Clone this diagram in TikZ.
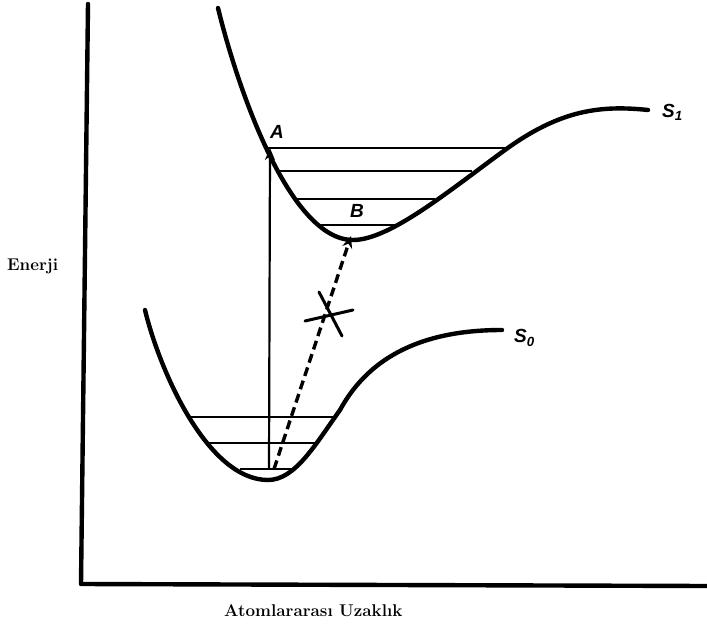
\documentclass[tikz,border=0pt]{standalone}
\usepackage{fontspec}
\newfontfamily\lblfont{Liberation Sans}
\usetikzlibrary{arrows.meta}
\tikzset{
  axis/.style={line width=4.4pt, line cap=round, line join=round},
  curve/.style={line width=4.4pt, line cap=round},
  level/.style={line width=2pt},
  jump/.style={-{Stealth[length=12pt, width=10pt]}, line width=2.2pt},
  nojump/.style={-{Stealth[length=12pt, width=10pt]}, line width=3.4pt, dash pattern=on 9pt off 5pt},
  cross/.style={line width=3pt, line cap=round},
  statelbl/.style={font=\lblfont\bfseries\itshape\fontsize{19}{22}\selectfont, inner sep=0pt},
  axislbl/.style={font=\bfseries\fontsize{17}{20}\selectfont, inner sep=0pt}
}
\begin{document}
\begin{tikzpicture}[x=1pt, y=-1pt]
\useasboundingbox (0,0) rectangle (707,626);

% axes
\coordinate (top) at (88,4);
\coordinate (origin) at (81,584);
\coordinate (right) at (707,586);
\draw[axis] (top) -- (origin) -- (right);

% potential curves
\coordinate (s1start) at (218,8);
\coordinate (s1min) at (353,240);
\coordinate (s1bend) at (505,150);
\coordinate (s1end) at (648,110);
\draw[curve] (s1start) .. controls (238,90) and (290,240) .. (s1min)
  .. controls (390,240) and (450,190) .. (s1bend)
  .. controls (560,110) and (600,105) .. (s1end);
\coordinate (s0start) at (145,310);
\coordinate (s0min) at (268,480);
\coordinate (s0bend) at (340,410);
\coordinate (s0end) at (502,330);
\draw[curve] (s0start) .. controls (160,372) and (208,480) .. (s0min)
  .. controls (295,480) and (315,445) .. (s0bend)
  .. controls (370,355) and (425,330) .. (s0end);

% vibrational levels
\draw[level] (268,148) -- (507,148);
\draw[level] (279,171) -- (472,171);
\draw[level] (297,199) -- (435,199);
\draw[level] (316,225) -- (395,225);
\draw[level] (191,417) -- (335,417);
\draw[level] (207,443) -- (318,443);
\draw[level] (240,469) -- (296,469);

% transitions
\coordinate (groundv) at (269,469);
\coordinate (pointA) at (270,148);
\coordinate (groundd) at (274,469);
\coordinate (pointB) at (351,236);
\draw[jump] (groundv) -- (pointA);
\draw[nojump] (groundd) -- (pointB);

% forbidden mark
\coordinate (xa1) at (305,321);
\coordinate (xa2) at (353,310);
\coordinate (xb1) at (319,292);
\coordinate (xb2) at (342,336);
\draw[cross] (xa1) -- (xa2);
\draw[cross] (xb1) -- (xb2);

% labels
\node[statelbl] (lblA) at (277,132) {A};
\node[statelbl] (lblB) at (357,211) {B};
\node[statelbl, anchor=west] (lblS1) at (662,112) {S\textsubscript{1}};
\node[statelbl, anchor=west] (lblS0) at (514,338) {S\textsubscript{0}};
\node[axislbl, anchor=west] (energy) at (7,266) {Enerji};
\node[axislbl, anchor=west] (distance) at (224,611) {Atomlararası Uzaklık};
\end{tikzpicture}
\end{document}
